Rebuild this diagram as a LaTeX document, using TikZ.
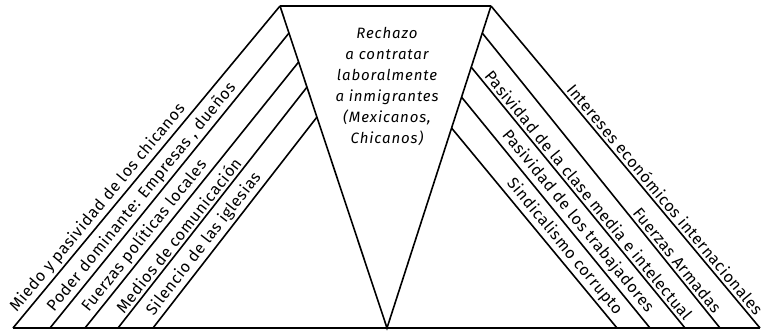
\documentclass[tikz,border=0pt]{standalone}
\usepackage{fontspec}
\setmainfont{Fira Sans}
\newfontfamily\etiqfam[LetterSpace=4]{Fira Sans}
\newfontfamily\centrofam[LetterSpace=6]{Fira Sans}
\usetikzlibrary{calc}
\newcommand{\etiqfont}{\fontsize{16}{18}\selectfont\etiqfam}
\newcommand{\centrofont}{\fontsize{15}{21}\selectfont\centrofam\itshape}
\tikzset{
    x=1pt, y=-1pt,
    lado/.style={line width=1.6pt, black},
    techo/.style={line width=2.4pt, black},
    base/.style={line width=2.8pt, black},
    etiq/.style={font=\etiqfont, sloped, above, inner sep=2.5pt},
    centro/.style={font=\centrofont, align=center, inner sep=0pt},
}

\begin{document}
\begin{tikzpicture}
    \useasboundingbox (0,0) rectangle (777,332);

    \coordinate (tl) at (280,6);
    \coordinate (tr) at (491,6);
    \coordinate (apex) at (387,328);

    % triangulo invertido
    \draw[lado] (tl) -- (apex) -- (tr);
    \draw[techo] (tl) -- (tr);
    \node[centro] (rechazo) at (387,86)
        {Rechazo\\a contratar\\laboralmente\\a inmigrantes\\(Mexicanos,\\Chicanos)};

    % lado izquierdo
    \coordinate (l2) at ($(tl)!0.084!(apex)$);
    \coordinate (l3) at ($(tl)!0.174!(apex)$);
    \coordinate (l4) at ($(tl)!0.252!(apex)$);
    \coordinate (l5) at ($(tl)!0.345!(apex)$);
    \coordinate (b1) at (13,328);
    \coordinate (b2) at (50,328);
    \coordinate (b3) at (85,328);
    \coordinate (b4) at (118,328);
    \coordinate (b5) at (153,328);

    \draw[lado] (b1) -- node[etiq, pos=0.35] (miedo) {Miedo y pasividad de los chicanos} (tl);
    \draw[lado] (b2) -- node[etiq, pos=0.42] (poder) {Poder dominante: Empresas , dueños} (l2);
    \draw[lado] (b3) -- node[etiq, pos=0.32] (fpol) {Fuerzas políticas locales} (l3);
    \draw[lado] (b4) -- node[etiq, pos=0.36] (medios) {Medios de comunicación} (l4);
    \draw[lado] (b5) -- node[etiq, pos=0.365] (silencio) {Silencio de las iglesias} (l5);

    % lado derecho
    \coordinate (r2) at ($(tr)!0.084!(apex)$);
    \coordinate (r3) at ($(tr)!0.19!(apex)$);
    \coordinate (r4) at ($(tr)!0.283!(apex)$);
    \coordinate (r5) at ($(tr)!0.379!(apex)$);
    \coordinate (c1) at (760,328);
    \coordinate (c2) at (720,328);
    \coordinate (c3) at (685,328);
    \coordinate (c4) at (650,328);
    \coordinate (c5) at (617,328);

    \draw[lado] (tr) -- node[etiq, pos=0.62] (intereses) {Intereses económicos internacionales} (c1);
    \draw[lado] (r2) -- node[etiq, pos=0.79] (farm) {Fuerzas Armadas} (c2);
    \draw[lado] (r3) -- node[etiq, pos=0.515] (clase) {Pasividad de la clase media e intelectual} (c3);
    \draw[lado] (r4) -- node[etiq, pos=0.57] (trab) {Pasividad de los trabajadores} (c4);
    \draw[lado] (r5) -- node[etiq, pos=0.63] (sindic) {Sindicalismo corrupto} (c5);

    \draw[base] (b1) -- (c1);
\end{tikzpicture}
\end{document}
